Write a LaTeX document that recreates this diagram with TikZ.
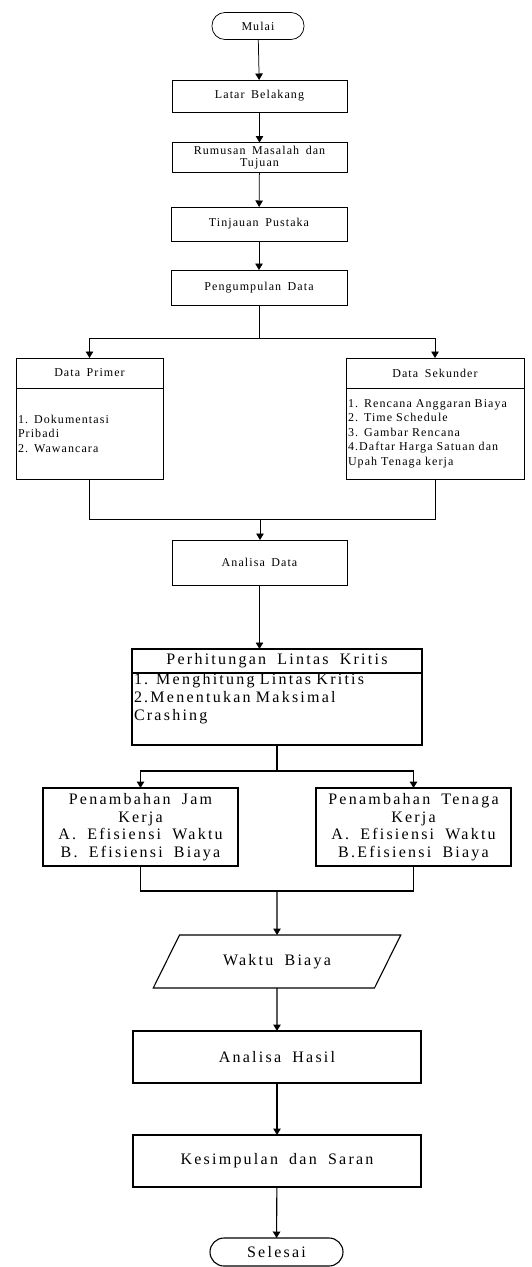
\documentclass[tikz,border=0pt]{standalone}
\usepackage{fontspec}
\setmainfont{Liberation Serif}
\newfontfamily\hurufkecil[LetterSpace=9,WordSpace=1.6]{Liberation Serif}
\newfontfamily\hurufbesar[LetterSpace=14,WordSpace=1.8]{Liberation Serif}
\usetikzlibrary{arrows.meta,shapes.geometric}

\begin{document}
\begin{tikzpicture}[x=1pt,y=-1pt,>={Triangle[length=6.5pt,width=7.5pt]},line width=0.75pt,
	terminal/.style={shape=rectangle,draw,inner sep=0pt,outer sep=0pt},
	proses/.style={shape=rectangle,draw,inner sep=2pt,outer sep=0pt,align=center},
	kecil/.style={font=\hurufkecil\fontsize{12}{14.5}\selectfont},
	besar/.style={font=\hurufbesar\fontsize{16}{17.5}\selectfont},
	tebal/.style={line width=1.1pt}]
					\useasboundingbox (0,0) rectangle (532,1267);

					% bagian atas
					\node (mulai) [terminal,kecil,rounded corners=13pt,minimum width=92pt,minimum height=27pt] at (258,26) {Mulai};
					\node (latar) [proses,kecil,minimum width=175pt,minimum height=32pt] at (259.5,96) {Latar Belakang};
					\node (rumusan) [proses,minimum width=175pt,minimum height=30pt,inner sep=0pt,
						font=\hurufkecil\fontsize{12}{12.5}\selectfont] at (259.5,157.5) {Rumusan Masalah dan\\Tujuan};
					\node (tinjauan) [proses,kecil,minimum width=176pt,minimum height=34pt] at (259,224) {Tinjauan Pustaka};
					\node (pengumpulan) [proses,kecil,minimum width=176pt,minimum height=35pt] at (259,287.5) {Pengumpulan Data};
					\coordinate (cabang) at (259,338);

					\node (primerkepala) [proses,kecil,minimum width=147pt,minimum height=30pt] at (89.5,373) {Data Primer};
					\node (primerisi) [proses,kecil,text width=143pt,minimum height=91pt,align=left] at (89.5,433.5) {
						1. Dokumentasi\\
						Pribadi\\
						2. Wawancara
					};
					\node (sekunderkepala) [proses,kecil,minimum width=178pt,minimum height=30pt] at (435,373) {Data Sekunder};
					\node (sekunderisi) [proses,kecil,text width=174pt,minimum height=91pt,align=left] at (435,433.5) {
						1. Rencana Anggaran Biaya\\
						2. Time Schedule\\
						3. Gambar Rencana\\
						4.Daftar Harga Satuan dan\\
						Upah Tenaga kerja
					};
					\coordinate (gabung) at (260,519);
					\node (analisa) [proses,kecil,minimum width=175pt,minimum height=45pt] at (259.5,562.5) {Analisa Data};

					% bagian bawah
					\node (perhitungankepala) [proses,besar,tebal,minimum width=290pt,minimum height=24pt,inner sep=0pt] at (277,661) {Perhitungan Lintas Kritis};
					\node (perhitunganisi) [proses,tebal,text width=286pt,minimum height=72pt,inner ysep=0pt,align=left,
						font=\hurufbesar\fontsize{16}{18}\selectfont] at (277,709) {
						1. Menghitung Lintas Kritis\\
						2.Menentukan Maksimal\\
						Crashing\\
						\strut
					};
					\coordinate (cabang2) at (277,771);
					\node (jam) [proses,besar,tebal,minimum width=195pt,minimum height=78pt,inner sep=0pt] at (140.5,827) {
						Penambahan Jam\\
						Kerja\\
						A. Efisiensi Waktu\\
						B. Efisiensi Biaya
					};
					\node (tenaga) [proses,besar,tebal,minimum width=195pt,minimum height=78pt,inner sep=0pt] at (413.5,827) {
						Penambahan Tenaga\\
						Kerja\\
						A. Efisiensi Waktu\\
						B.Efisiensi Biaya
					};
					\coordinate (gabung2) at (277,891);
					\node (waktu) [shape=trapezium,draw,besar,tebal,trapezium left angle=54,trapezium right angle=126,
						trapezium stretches=true,minimum width=248pt,minimum height=53pt,outer sep=0pt] at (277,961.5) {Waktu Biaya};
					\node (hasil) [proses,besar,tebal,minimum width=288pt,minimum height=52pt] at (277,1057) {Analisa Hasil};
					\node (kesimpulan) [proses,besar,tebal,minimum width=288pt,minimum height=52pt] at (277,1161) {Kesimpulan dan Saran};
					\node (selesai) [terminal,besar,tebal,rounded corners=14pt,minimum width=133pt,minimum height=28pt] at (276.5,1252) {Selesai};

					\path[->](mulai) edge (latar);
					\path[->](latar) edge (rumusan);
					\path[->](rumusan) edge (tinjauan);
					\path[->](tinjauan) edge (pengumpulan);
					\draw (pengumpulan) -- (cabang);
					\draw[->] (cabang) -| (primerkepala);
					\draw[->] (cabang) -| (sekunderkepala);
					\draw (primerisi) |- (gabung);
					\draw (sekunderisi) |- (gabung);
					\draw[->] (gabung) -- (gabung |- analisa.north);
					\draw[->] (analisa.south) -- (analisa.south |- perhitungankepala.north);

					\begin{scope}[tebal]
						\draw (perhitunganisi) -- (cabang2);
						\draw[->] (cabang2) -| (jam);
						\draw[->] (cabang2) -| (tenaga);
						\draw (jam) |- (gabung2);
						\draw (tenaga) |- (gabung2);
						\draw[->] (gabung2) -- (waktu);
						\path[->](waktu) edge (hasil);
						\path[->](hasil) edge (kesimpulan);
						\path[->](kesimpulan) edge (selesai);
					\end{scope}
				\end{tikzpicture}
\end{document}
